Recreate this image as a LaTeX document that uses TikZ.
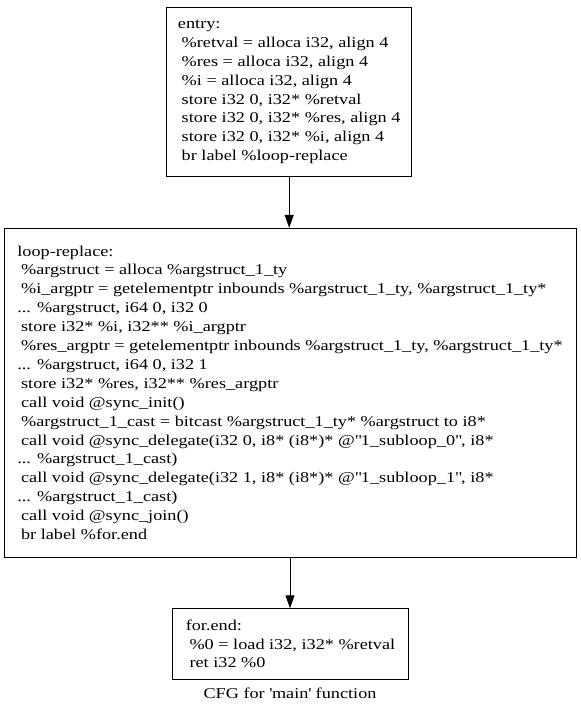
\documentclass[tikz,border=0pt]{standalone}
\usepackage{fontspec}
\setmainfont{Liberation Serif}[FakeStretch=1.215]
\usetikzlibrary{arrows.meta,positioning}
\newcommand{\irsp}{\hspace*{0.25em}}
\newcommand{\dq}{\textquotedbl}
\tikzset{block/.style={draw,line width=1pt,align=left,inner sep=0pt,
    font=\fontsize{15}{18.9}\selectfont},
  flow/.style={-{Triangle[length=13pt,width=9pt]},line width=1pt},
  caption/.style={font=\fontsize{15}{18.9}\selectfont}}

\begin{document}
\begin{tikzpicture}[x=1pt, y=1pt]
\useasboundingbox (0,0) rectangle (581,-716);
\node[block, minimum width=245pt, minimum height=169.4pt] (entry) at (289.2,-92) {entry:\\
  \irsp\%retval = alloca i32, align 4\\
  \irsp\%res = alloca i32, align 4\\
  \irsp\%i = alloca i32, align 4\\
  \irsp store i32 0, i32* \%retval\\
  \irsp store i32 0, i32* \%res, align 4\\
  \irsp store i32 0, i32* \%i, align 4\\
  \irsp br label \%loop-replace};
\node[block, minimum width=572pt, minimum height=328.7pt] (loop) at (290,-392.7) {loop-replace:\\
  \irsp\%argstruct = alloca \%argstruct\_1\_ty\\
  \irsp\%i\_argptr = getelementptr inbounds \%argstruct\_1\_ty, \%argstruct\_1\_ty*\\
  ... \%argstruct, i64 0, i32 0\\
  \irsp store i32* \%i, i32** \%i\_argptr\\
  \irsp\%res\_argptr = getelementptr inbounds \%argstruct\_1\_ty, \%argstruct\_1\_ty*\\
  ... \%argstruct, i64 0, i32 1\\
  \irsp store i32* \%res, i32** \%res\_argptr\\
  \irsp call void @sync\_init()\\
  \irsp\%argstruct\_1\_cast = bitcast \%argstruct\_1\_ty* \%argstruct to i8*\\
  \irsp call void @sync\_delegate(i32 0, i8* (i8*)* @\dq1\_subloop\_0\dq, i8*\\
  ... \%argstruct\_1\_cast)\\
  \irsp call void @sync\_delegate(i32 1, i8* (i8*)* @\dq1\_subloop\_1\dq, i8*\\
  ... \%argstruct\_1\_cast)\\
  \irsp call void @sync\_join()\\
  \irsp br label \%for.end};
\node[block, minimum width=235.6pt, minimum height=70.3pt] (forend) at (290.5,-643.9) {for.end:\\
  \irsp\%0 = load i32, i32* \%retval\\
  \irsp ret i32 \%0};
\node[caption, anchor=base] (title) at (290,-698) {CFG for \textquotesingle main\textquotesingle\ function};
\draw[flow] (entry.south) -- (entry.south |- loop.north);
\draw[flow] (loop.south) -- (loop.south |- forend.north);
\end{tikzpicture}
\end{document}
